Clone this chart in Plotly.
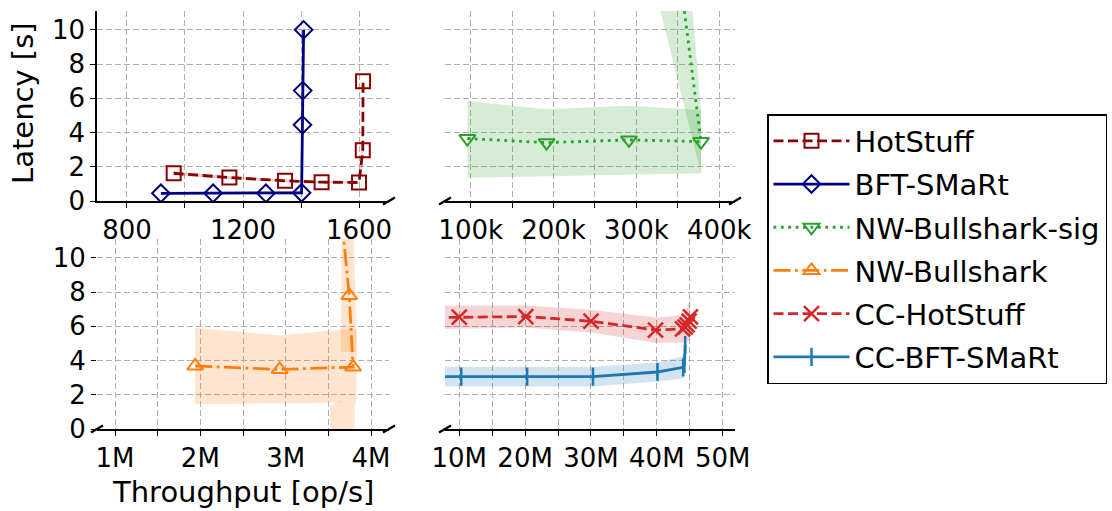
import plotly.graph_objects as go

W, H = 1112, 511
FONT = "DejaVu Sans"

# ---------------- data ----------------
# HotStuff (top-left)
hs_x = [961, 1153, 1345, 1471, 1600, 1613, 1614]
hs_y = [1.62, 1.37, 1.18, 1.10, 1.08, 2.97, 7.0]
hs_err = [0.12, 0.08, 0.08, 0.06, 0.06, 1.0, 3.4]

# BFT-SMaRt (top-left)
bs_x = [917, 1097, 1279, 1402, 1405, 1406, 1409]
bs_y = [0.45, 0.45, 0.45, 0.48, 4.45, 6.45, 10.0]
bs_err = [0.08, 0.06, 0.06, 0.10, 0.4, 0.6, 2.5]

# NW-Bullshark-sig (top-right)
nws_x = [96e3, 191.6e3, 291e3, 378e3, 320e3]
nws_y = [3.65, 3.41, 3.57, 3.47, 25.5]
nws_lo = [1.36, 1.48, 1.55, 1.62, 12.8]
nws_hi = [5.85, 5.36, 5.56, 5.32, 38.0]

# NW-Bullshark (bottom-left)
nw_x = [1.94e6, 2.93e6, 3.79e6, 3.745e6, 3.655e6]
nw_y = [3.68, 3.48, 3.62, 7.8, 12.4]
nw_band_x = [1.94e6, 2.93e6, 3.645e6, 3.645e6, 3.83e6]
nw_band_lo = [1.44, 1.50, 1.55, 4.5, 4.5]
nw_band_hi = [5.92, 5.46, 5.80, 5.80, 5.85]
nw_spike_y = [-0.5, 1.34, 1.7, 5.8, 12.0]
nw_spike_xl = [3.52e6, 3.52e6, 3.645e6, 3.65e6, 3.655e6]
nw_spike_xr = [3.81e6, 3.81e6, 3.83e6, 3.83e6, 3.79e6]

# CC-HotStuff (bottom-right)
cch_x = [4.0e6, 10.0e6, 20.1e6, 30.0e6, 39.8e6, 43.9e6, 44.3e6, 44.6e6, 44.9e6, 45.1e6]
cch_y = [6.5, 6.53, 6.57, 6.30, 5.78, 5.85, 5.95, 6.08, 6.30, 6.55]
cch_err = [0.68, 0.68, 0.64, 0.66, 0.74, 0.80, 0.90, 1.0, 1.1, 1.3]

# CC-BFT-SMaRt (bottom-right)
ccb_x = [4.0e6, 10.3e6, 20.3e6, 30.3e6, 40.1e6, 44.0e6, 44.2e6, 44.3e6]
ccb_y = [3.06, 3.06, 3.06, 3.06, 3.33, 3.60, 3.80, 4.90]
ccb_err = [0.58, 0.58, 0.58, 0.58, 0.55, 0.65, 0.70, 0.75]

# ticks
tl_ticks = [800, 1000, 1200, 1400, 1600]
tl_text = ["800", "", "1200", "", "1600"]
tr_ticks = [100e3, 150e3, 200e3, 250e3, 300e3, 350e3, 400e3]
tr_text = ["100k", "", "200k", "", "300k", "", "400k"]
bl_ticks = [1e6, 1.5e6, 2e6, 2.5e6, 3e6, 3.5e6, 4e6]
bl_text = ["1M", "", "2M", "", "3M", "", "4M"]
br_ticks = [10e6, 15e6, 20e6, 25e6, 30e6, 35e6, 40e6, 45e6, 50e6]
br_text = ["10M", "", "20M", "", "30M", "", "40M", "", "50M"]
y_ticks = [0, 2, 4, 6, 8, 10]

# ---------------- styles ----------------
C_HS = "#8b0000"
C_BS = "#000080"
C_NWS = "#2ca02c"
C_NW = "#ff7f0e"
C_CCH = "#d62728"
C_CCB = "#1f77b4"


def rgba(hexc, a):
    h = hexc.lstrip("#")
    r, g, b = int(h[0:2], 16), int(h[2:4], 16), int(h[4:6], 16)
    return f"rgba({r},{g},{b},{a})"


LW = 2.8
DASHED = "10px,4.5px"
DOTTED = "2.8px,4.6px"
DASHDOT = "17px,4.5px,2.8px,4.5px"

fig = go.Figure()


def add_band(x, lo, hi, color, xa, ya, group):
    fig.add_trace(go.Scatter(
        x=list(x) + list(x)[::-1], y=list(hi) + list(lo)[::-1],
        mode="lines", fill="toself", fillcolor=rgba(color, 0.2),
        line=dict(width=0, color="rgba(0,0,0,0)"),
        hoverinfo="skip", showlegend=False, legendgroup=group,
        xaxis=xa, yaxis=ya))


def add_line(x, y, name, color, dash, symbol, msize, xa, ya, mlw=2.0):
    fig.add_trace(go.Scatter(
        x=x, y=y, name=name, mode="lines+markers", legendgroup=name,
        line=dict(color=color, width=LW, dash=dash),
        marker=dict(symbol=symbol, size=msize, color=color,
                    line=dict(color=color, width=mlw)),
        xaxis=xa, yaxis=ya))


# HotStuff
add_band(hs_x, [a - e for a, e in zip(hs_y, hs_err)], [a + e for a, e in zip(hs_y, hs_err)],
         C_HS, "x", "y", "HotStuff")
add_line(hs_x, hs_y, "HotStuff", C_HS, DASHED, "square-open", 14, "x", "y")

# BFT-SMaRt
add_band(bs_x, [a - e for a, e in zip(bs_y, bs_err)], [a + e for a, e in zip(bs_y, bs_err)],
         C_BS, "x", "y", "BFT-SMaRt")
add_line(bs_x, bs_y, "BFT-SMaRt", C_BS, "solid", "diamond-open", 13.5, "x", "y")

# NW-Bullshark-sig : two monotonic runs of the band
add_band(nws_x[:4], nws_lo[:4], nws_hi[:4], C_NWS, "x2", "y2", "NW-Bullshark-sig")
add_band(nws_x[3:], nws_lo[3:], nws_hi[3:], C_NWS, "x2", "y2", "NW-Bullshark-sig")
add_line(nws_x, nws_y, "NW-Bullshark-sig", C_NWS, DOTTED, "triangle-down-open", 14, "x2", "y2")

# NW-Bullshark
add_band(nw_band_x, nw_band_lo, nw_band_hi, C_NW, "x3", "y3", "NW-Bullshark")
fig.add_trace(go.Scatter(
    x=nw_spike_xl + nw_spike_xr[::-1], y=nw_spike_y + nw_spike_y[::-1],
    mode="lines", fill="toself", fillcolor=rgba(C_NW, 0.2),
    line=dict(width=0, color="rgba(0,0,0,0)"), hoverinfo="skip",
    showlegend=False, legendgroup="NW-Bullshark", xaxis="x3", yaxis="y3"))
add_line(nw_x, nw_y, "NW-Bullshark", C_NW, DASHDOT, "triangle-up-open", 14, "x3", "y3")

# CC-HotStuff
add_band(cch_x, [a - e for a, e in zip(cch_y, cch_err)], [a + e for a, e in zip(cch_y, cch_err)],
         C_CCH, "x4", "y4", "CC-HotStuff")
add_line(cch_x, cch_y, "CC-HotStuff", C_CCH, DASHED, "x-thin-open", 15, "x4", "y4", mlw=2.5)

# CC-BFT-SMaRt
add_band(ccb_x, [a - e for a, e in zip(ccb_y, ccb_err)], [a + e for a, e in zip(ccb_y, ccb_err)],
         C_CCB, "x4", "y4", "CC-BFT-SMaRt")
add_line(ccb_x, ccb_y, "CC-BFT-SMaRt", C_CCB, "solid", "line-ns-open", 13, "x4", "y4", mlw=2.5)

# ---------------- layout ----------------
LEFT = [97 / W, 389 / W]
RIGHT = [445 / W, 735 / W]
TOP = [1 - 201 / H, 1 - 11 / H]
BOT = [1 - 429 / H, 1 - 239 / H]
YR = [0, 11.1]

GRID = dict(showgrid=True, gridcolor="#b0b0b0", gridwidth=1.2, griddash="6px,3px",
            zeroline=False, automargin=False)
TICKFONT = dict(family=FONT, size=26, color="black")


def xaxis(domain, anchor, rng, vals, text):
    return dict(domain=domain, anchor=anchor, range=rng, tickmode="array",
                tickvals=vals, ticktext=text, ticks="outside", ticklen=5,
                tickwidth=1.4, tickcolor="black", showline=True, linecolor="black",
                linewidth=1.6, tickfont=TICKFONT, **GRID)


def yaxis(domain, anchor, labels, spine):
    d = dict(domain=domain, anchor=anchor, range=YR, tickmode="array",
             tickvals=y_ticks, showticklabels=labels, tickfont=TICKFONT,
             ticks="outside" if labels else "", ticklen=5, tickwidth=1.4,
             tickcolor="black", showline=spine, linecolor="black", linewidth=1.6,
             **GRID)
    return d


fig.update_layout(
    width=W, height=H, margin=dict(l=0, r=0, t=0, b=0, autoexpand=False),
    paper_bgcolor="white", plot_bgcolor="white",
    font=dict(family=FONT, size=26, color="black"),
    xaxis=xaxis(LEFT, "y", [696.6, 1703.4], tl_ticks, tl_text),
    yaxis=yaxis(TOP, "x", True, True),
    xaxis2=xaxis(RIGHT, "y2", [69e3, 419e3], tr_ticks, tr_text),
    yaxis2=yaxis(TOP, "x2", False, False),
    xaxis3=xaxis(LEFT, "y3", [0.789e6, 4.211e6], bl_ticks, bl_text),
    yaxis3=yaxis(BOT, "x3", True, False),
    xaxis4=xaxis(RIGHT, "y4", [7.83e6, 51.87e6], br_ticks, br_text),
    yaxis4=yaxis(BOT, "x4", False, False),
    showlegend=True,
    legend=dict(x=767 / W, y=1 - 114 / H, xanchor="left", yanchor="top",
                bgcolor="white", bordercolor="black", borderwidth=1.5,
                font=dict(family=FONT, size=29, color="black"),
                itemwidth=76, tracegroupgap=2.5, traceorder="grouped"),
)

# axis titles
fig.add_annotation(text="Latency [s]", xref="paper", yref="paper",
                   x=23 / W, y=1 - 103 / H, xanchor="center", yanchor="middle",
                   showarrow=False, textangle=-90,
                   font=dict(family=FONT, size=29, color="black"))
fig.add_annotation(text="Throughput [op/s]", xref="paper", yref="paper",
                   x=243 / W, y=1 - 492 / H, xanchor="center", yanchor="middle",
                   showarrow=False,
                   font=dict(family=FONT, size=29, color="black"))

# broken-axis marks
breaks = [(LEFT[1], TOP[0]), (RIGHT[0], TOP[0]), (RIGHT[1], TOP[0]),
          (LEFT[0], BOT[0]), (LEFT[1], BOT[0]), (RIGHT[0], BOT[0])]
for bx, by in breaks:
    fig.add_shape(type="line", xref="paper", yref="paper",
                  xsizemode="pixel", ysizemode="pixel", xanchor=bx, yanchor=by,
                  x0=-6, x1=6, y0=-3.5, y1=3.5, layer="above",
                  line=dict(color="black", width=2.2))

fig.write_html("out.html", config={"displayModeBar": False},
               post_script="document.body.style.margin='0';document.body.style.padding='0';document.body.style.overflow='hidden';")
